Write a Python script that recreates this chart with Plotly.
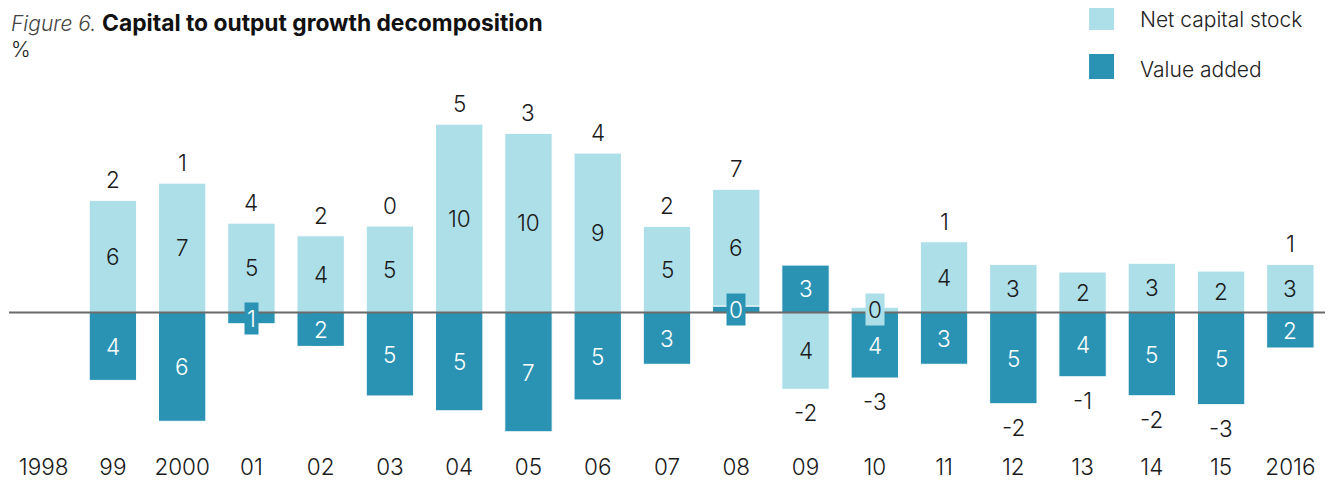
import plotly.graph_objects as go

# ---- data ----
years = ["1998", "99", "2000", "01", "02", "03", "04", "05", "06", "07", "08",
         "09", "10", "11", "12", "13", "14", "15", "2016"]
net_capital = [None, 6.20, 7.15, 4.94, 4.24, 4.78, 10.41, 9.90, 8.81, 4.76, 6.45,
               -4.24, 0.29, 3.91, 2.66, 2.24, 2.72, 2.29, 2.66]
value_added = [None, -3.75, -6.01, -0.62, -1.87, -4.61, -5.43, -6.59, -4.83, -2.86, 0.36,
               2.62, -3.62, -2.86, -5.04, -3.55, -4.60, -5.09, -1.96]

LIGHT = "#ADDFE9"
DARK = "#2A93B3"
FONT = "Inter"
FS = 22.5
TXT = 21
W = 300

fig = go.Figure()
fig.add_trace(go.Bar(x=years, y=value_added, name="Value added",
                     marker=dict(color=DARK, line=dict(color="white", width=1)), width=0.684))
fig.add_trace(go.Bar(x=years, y=net_capital, name="Net capital stock",
                     marker=dict(color=LIGHT, line=dict(color="white", width=1)), width=0.684))

annotations = []
for i, (c, v) in enumerate(zip(net_capital, value_added)):
    if c is None or v is None:
        continue
    # value added is the bottom of the stack
    base_c = v if (v >= 0) == (c >= 0) else 0
    annotations.append(dict(x=i, y=v / 2, xref="x", yref="y", text="%d" % round(abs(v)),
                            showarrow=False, font=dict(color="white", size=FS, family=FONT, weight=W),
                            bgcolor=DARK, borderpad=2))
    annotations.append(dict(x=i, y=base_c + c / 2, xref="x", yref="y", text="%d" % round(abs(c)),
                            showarrow=False, font=dict(color="#1a1a1a", size=FS, family=FONT, weight=W),
                            bgcolor=LIGHT, borderpad=2))
    total = c + v
    pos = sum(t for t in (c, v) if t > 0)
    neg = sum(t for t in (c, v) if t < 0)
    if total >= 0:
        annotations.append(dict(x=i, y=pos, xref="x", yref="y", text="%d" % round(total),
                                showarrow=False, yanchor="middle", yshift=20.5,
                                font=dict(color="#1a1a1a", size=FS, family=FONT, weight=W)))
    else:
        annotations.append(dict(x=i, y=neg, xref="x", yref="y", text="%d" % round(total),
                                showarrow=False, yanchor="middle", yshift=-23.5,
                                font=dict(color="#1a1a1a", size=FS, family=FONT, weight=W)))

# title, unit and legend (layout text)
annotations.append(dict(x=0, y=1.2071, xref="paper", yref="paper", xanchor="left", yanchor="middle",
                        showarrow=False,
                        text="<i><span style='color:#444444;font-weight:300'>Figure 6.</span></i> "
                             "<b><span style='font-size:22.8px'>Capital to output growth decomposition</span></b>",
                        font=dict(size=TXT, family=FONT, color="#111111")))
annotations.append(dict(x=0, y=1.1286, xref="paper", yref="paper", xanchor="left", yanchor="middle",
                        showarrow=False, text="%", font=dict(size=TXT, family=FONT, color="#222222", weight=W)))
annotations.append(dict(x=0.8579, y=1.2157, xref="paper", yref="paper", xanchor="left", yanchor="middle",
                        showarrow=False, text="Net capital stock",
                        font=dict(size=TXT, family=FONT, color="#222222", weight=W)))
annotations.append(dict(x=0.8579, y=1.0729, xref="paper", yref="paper", xanchor="left", yanchor="middle",
                        showarrow=False, text="Value added",
                        font=dict(size=TXT, family=FONT, color="#222222", weight=W)))

shapes = [
    dict(type="rect", xref="paper", yref="paper", x0=0.8207, x1=0.8397, y0=1.1857, y1=1.2571,
         fillcolor=LIGHT, line=dict(width=0)),
    dict(type="rect", xref="paper", yref="paper", x0=0.8207, x1=0.8397, y0=1.0457, y1=1.1171,
         fillcolor=DARK, line=dict(width=0)),
    dict(type="line", xref="paper", yref="y", x0=0, x1=1, y0=0, y1=0, layer="above",
         line=dict(color="#6b6b6b", width=2)),
]

# the page body keeps an 8px margin, so the figure is 8px smaller and offset accordingly
fig.update_layout(
    barmode="relative",
    width=1332, height=475,
    margin=dict(l=1, r=15, t=87, b=38, autoexpand=False),
    paper_bgcolor="white", plot_bgcolor="white",
    showlegend=False,
    annotations=annotations,
    shapes=shapes,
    font=dict(family=FONT, size=FS, color="#1a1a1a"),
    xaxis=dict(type="category", range=[-0.5, 18.5], showgrid=False, zeroline=False, automargin=False,
               showline=False, ticks="", ticklabelstandoff=6,
               tickfont=dict(size=FS, family=FONT, color="#1a1a1a", weight=W)),
    yaxis=dict(range=[-7.32, 12.02], showgrid=False, zeroline=False, showticklabels=False,
               automargin=False, showline=False, ticks=""),
)

fig.write_html("out.html")
